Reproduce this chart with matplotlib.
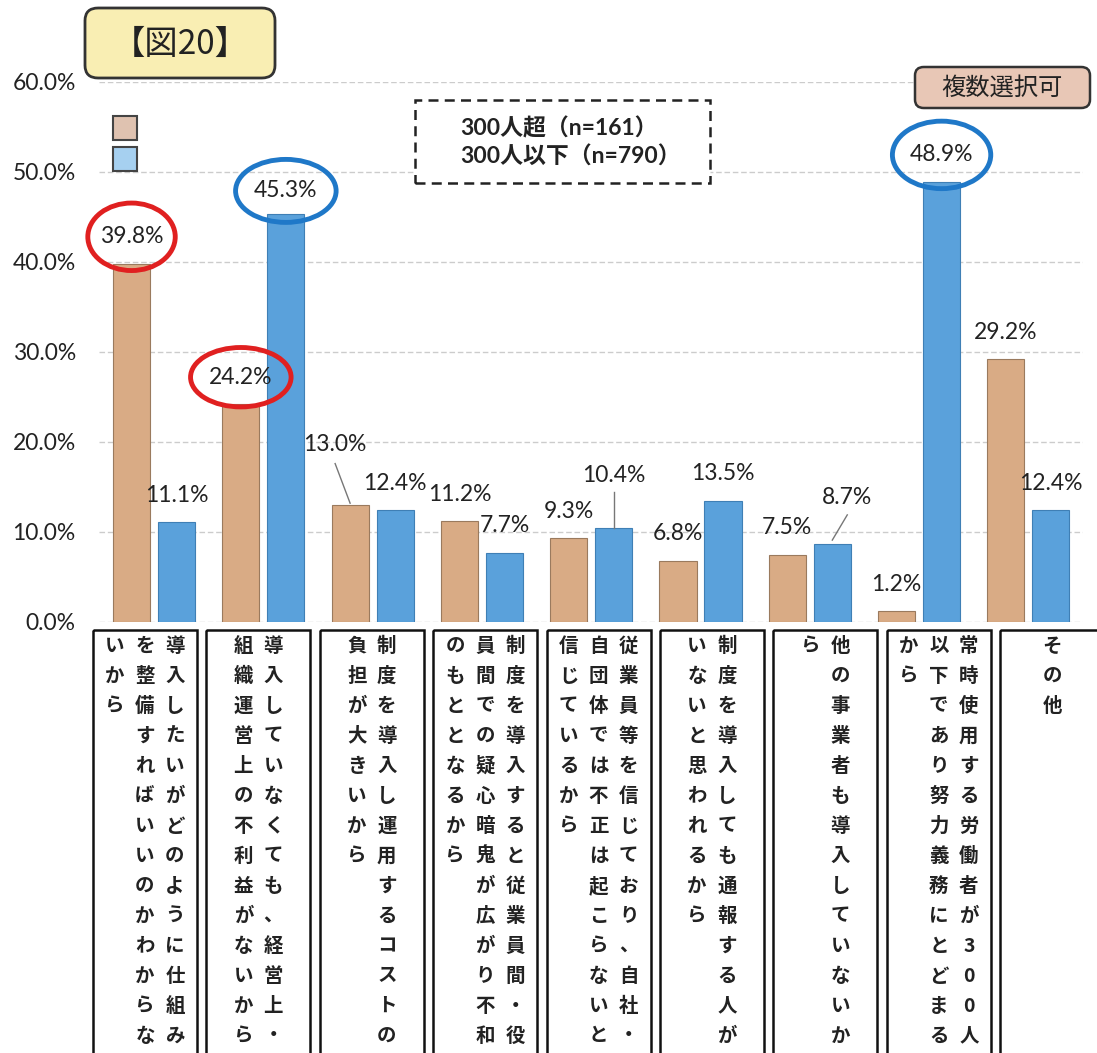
import matplotlib.pyplot as plt
import numpy as np
from matplotlib.patches import Rectangle, Ellipse, FancyBboxPatch

plt.rcParams['font.family'] = ['Lato', 'Noto Sans CJK JP', 'DejaVu Sans']

# データ
categories = [
    "導入したいがどのように仕組みを整備すればいいのかわからないから",
    "導入していなくても、経営上・組織運営上の不利益がないから",
    "制度を導入し運用するコストの負担が大きいから",
    "制度を導入すると従業員間・役員間での疑心暗鬼が広がり不和のもととなるから",
    "従業員等を信じており、自社・自団体では不正は起こらないと信じているから",
    "制度を導入しても通報する人がいないと思われるから",
    "他の事業者も導入していないから",
    "常時使用する労働者が300人以下であり努力義務にとどまるから",
    "その他",
]
over300 = [39.8, 24.2, 13.0, 11.2, 9.3, 6.8, 7.5, 1.2, 29.2]
under300 = [11.1, 45.3, 12.4, 7.7, 10.4, 13.5, 8.7, 48.9, 12.4]
series_names = ["300人超（n=161）", "300人以下（n=790）"]
yticks = [0, 10, 20, 30, 40, 50, 60]

W, H = 1097, 1053
fx = lambda px: px / W
fy = lambda py: 1 - py / H

TAN = '#d9ab85'
BLUE = '#5aa1db'

fig = plt.figure(figsize=(W / 100, H / 100), dpi=100)
fig.patch.set_facecolor('white')

# 棒グラフ
ax = fig.add_axes([fx(99.4), fy(622), fx(1083) - fx(99.4), fy(82) - fy(622)])
x = np.arange(len(categories))
off, bw = 0.206, 0.34
ax.bar(x - off, over300, bw, color=TAN, edgecolor='#9a7a5e', linewidth=0.8, zorder=3)
ax.bar(x + off, under300, bw, color=BLUE, edgecolor='#3f7fb5', linewidth=0.8, zorder=3)
ax.set_xlim(-0.5, 8.5)
ax.set_ylim(0, 60)
ax.set_yticks(yticks)
ax.set_yticklabels([f"{v:.1f}%" for v in yticks])
ax.set_xticks([])
ax.tick_params(axis='y', length=0, pad=17, labelsize=16.5, labelcolor='#222222')
ax.yaxis.grid(True, color='#cccccc', linestyle=(0, (4, 2)), linewidth=1)
ax.set_axisbelow(True)
for s in ax.spines.values():
    s.set_visible(False)

# データラベル（特別な位置のものだけ個別指定）
shift = {(0, 2): (-0.137, 6.7), (1, 4): (0, 5.9), (1, 6): (0.137, 5.1), (1, 1): (0, 2.6)}
leaders = {(0, 2): (-0.137, 4.6, 0.2), (1, 4): (0, 4.0, 0.0), (1, 6): (0.137, 3.2, 0.4)}
for s, (vals, sign) in enumerate([(over300, -1), (under300, 1)]):
    for i, v in enumerate(vals):
        xb = i + sign * off
        dx, dy = shift.get((s, i), (0, 3.0))
        ax.text(xb + dx, v + dy, f"{v:.1f}%", ha='center', va='center', fontsize=16.5,
                color='#222222', zorder=5)
        if (s, i) in leaders:
            lx, ly, ey = leaders[(s, i)]
            ax.plot([xb + lx, xb], [v + ly, v + ey], color='#777777', lw=1, zorder=4)

# 強調の楕円
circles = [(0, 0, '#e02020', 0.80, 7.5), (0, 1, '#e02020', 0.92, 6.6),
           (1, 1, '#1f78c8', 0.92, 7.0), (1, 7, '#1f78c8', 0.90, 7.5)]
for s, i, col, ew, eh in circles:
    vals = over300 if s == 0 else under300
    xb = i + (off if s else -off)
    dy = shift.get((s, i), (0, 3.0))[1]
    ax.add_patch(Ellipse((xb, vals[i] + dy), ew, eh, fill=False, edgecolor=col,
                         linewidth=3.5, zorder=6, clip_on=False))

# 凡例の四角
fig.patches.append(Rectangle((fx(113), fy(140)), 24 / W, 24 / H, transform=fig.transFigure,
                             facecolor='#dfc2b0', edgecolor='#444444', lw=1.5))
fig.patches.append(Rectangle((fx(113), fy(171)), 24 / W, 24 / H, transform=fig.transFigure,
                             facecolor='#a6d0f0', edgecolor='#444444', lw=1.5))

# 点線の枠
fig.patches.append(Rectangle((fx(415), fy(183)), 295 / W, 83 / H, transform=fig.transFigure,
                             facecolor='white', edgecolor='#222222', lw=1.8,
                             linestyle=(0, (4, 2.5)), zorder=2))
fig.text(fx(460), fy(128), series_names[0], fontsize=16.5, fontweight='bold',
         va='center', ha='left', color='#222222')
fig.text(fx(460), fy(157), series_names[1], fontsize=16.5, fontweight='bold',
         va='center', ha='left', color='#222222')

# タイトル
fig.patches.append(FancyBboxPatch((fx(85), fy(78)), 190 / W, 70 / H,
                                  boxstyle='round,pad=0,rounding_size=0.012',
                                  transform=fig.transFigure, facecolor='#f9eeb3',
                                  edgecolor='#333333', lw=2))
fig.text(fx(180), fy(44), "【図20】", fontsize=24, ha='center', va='center',
         family=['Noto Sans CJK JP'], color='#222222')

fig.patches.append(FancyBboxPatch((fx(915), fy(108)), 175 / W, 41 / H,
                                  boxstyle='round,pad=0,rounding_size=0.008',
                                  transform=fig.transFigure, facecolor='#e8c7b6',
                                  edgecolor='#333333', lw=1.8))
fig.text(fx(1002), fy(88), "複数選択可", fontsize=17.5, ha='center', va='center',
         family=['Noto Sans CJK JP'], color='#222222')

# 縦書きのカテゴリ表
stride = 113.4
lab = fig.add_axes([fx(88.3), fy(1103), 9 * stride / W, fy(630) - fy(1103)])
lab.set_xlim(0, 9)
lab.set_ylim(1103, 630)
lab.axis('off')
colw = 30 / stride
for i, cat in enumerate(categories):
    lab.add_patch(Rectangle((i + 0.0415, 630), 0.917, 480, fill=False,
                            edgecolor='#111111', lw=1.8, clip_on=False))
    cols = [cat[k:k + 14] for k in range(0, len(cat), 14)]
    n = len(cols)
    for j, col in enumerate(cols):
        cx = i + 0.5 + (n - 1) / 2 * colw - j * colw
        for k, ch in enumerate(col):
            lab.text(cx, 646 + 30 * k, ch, ha='center', va='center', fontsize=14,
                     fontweight='bold', family=['Noto Sans CJK JP'], color='#222222')

fig.savefig('out.png', dpi=100)
